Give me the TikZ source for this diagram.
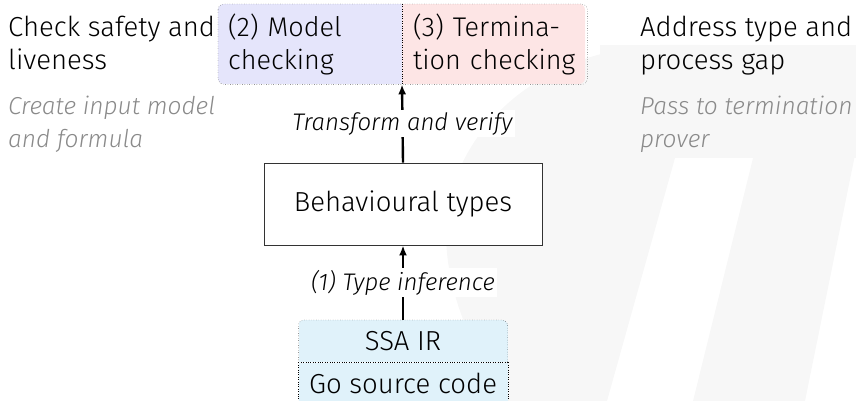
\documentclass[tikz,border=0pt]{standalone}
\usepackage{fontspec}
\setmainfont{Fira Sans}[UprightFont=* Light, ItalicFont=* Light Italic]
\usepackage[dvipsnames]{xcolor}
\usetikzlibrary{arrows.meta}
\definecolor{wmgrey}{HTML}{F7F7F7}
\definecolor{mcblue}{HTML}{E5E5FB}
\definecolor{tcpink}{HTML}{FDE5E5}
\definecolor{ssacyan}{HTML}{E0F2FA}
\definecolor{notegrey}{HTML}{8A8A8A}

\begin{document}
\begin{tikzpicture}[x=1pt,y=1pt,yscale=-1,xscale=1,
    headtxt/.style={font=\fontsize{27.5}{33}\selectfont, align=left, inner sep=0pt, anchor=north west},
    notetxt/.style={font=\fontsize{24.5}{33}\selectfont\itshape, text=notegrey, align=left, inner sep=0pt, anchor=north west},
    halfbox/.style={font=\fontsize{27}{33}\selectfont, align=left, inner xsep=10pt, inner ysep=0pt, minimum height=80pt, anchor=north west},
    stackbox/.style={font=\fontsize{27.5}{32}\selectfont, fill=ssacyan, minimum width=209pt, minimum height=42pt, inner sep=0pt, anchor=north},
    flow/.style={line width=2.4pt, -{Latex[length=10pt,width=8pt]}},
    steplbl/.style={font=\fontsize{24}{28}\selectfont\itshape, fill=white, inner sep=2pt}]
  \useasboundingbox (0,0) rectangle (856,401);
  \fill[wmgrey] (600,45) rectangle (856,158);
  \fill[wmgrey] (660,45) .. controls (540,50) and (452,130) .. (446,225) .. controls (444,300) and (480,360) .. (507,401) -- (607,401) -- (675,158) -- (700,45) -- cycle;
  \fill[wmgrey] (755,150) -- (693,401) -- (805,401) -- (856,150) -- cycle;

  \node[headtxt] (safety) at (8,16) {Check safety and\\liveness};
  \node[notetxt] (safetynote) at (8,96) {Create input model\\and formula};
  \node[headtxt] (gap) at (640,16) {Address type and\\process gap};
  \node[notetxt] (gapnote) at (640,96) {Pass to termination\\prover};

  \begin{scope}
    \clip[rounded corners=6pt] (218,4) rectangle (585,84);
    \node[halfbox, fill=mcblue, text width=164pt] (mc) at (218,4) {(2) Model\\checking};
    \node[halfbox, fill=tcpink, text width=163pt, inner xsep=11pt] (tc) at (402,4) {(3) Termina-\\tion checking};
  \end{scope}
  \draw[dotted, rounded corners=6pt] (mc.north west) rectangle (tc.south east);
  \draw[dotted] (mc.north east) -- (mc.south east);

  \node[draw=black!80, line width=0.9pt, fill=white, minimum width=278pt, minimum height=82pt, font=\fontsize{27.5}{32}\selectfont] (bt) at (403,204) {Behavioural types};

  \begin{scope}
    \clip[rounded corners=6pt] (298,320) rectangle (508,430);
    \node[stackbox] (ssa) at (403,320) {SSA IR};
    \node[stackbox] (gosrc) at (ssa.south) {Go source code};
  \end{scope}
  \draw[dotted, rounded corners=6pt] (ssa.south west) -- (ssa.north west) -- (ssa.north east) -- (ssa.south east);
  \draw[dotted] (ssa.south west) -- (ssa.south east);
  \draw[dotted] (gosrc.north west) -- (gosrc.south west) (gosrc.north east) -- (gosrc.south east);

  \draw[flow] (ssa.north) -- (bt.south) node[midway, steplbl] {(1) Type inference};
  \draw[flow] (bt.north) -- (tc.south west) node[midway, steplbl] {Transform and verify};
\end{tikzpicture}
\end{document}
